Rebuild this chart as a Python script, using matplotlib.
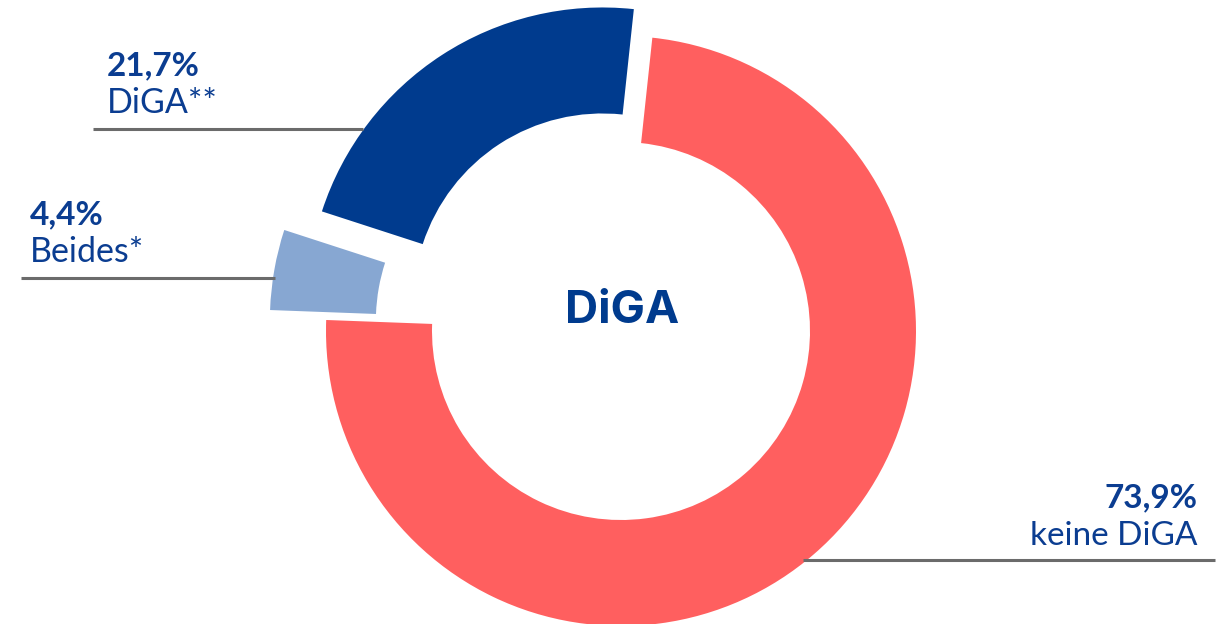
import matplotlib.pyplot as plt

# shares of respondents
labels = ['keine DiGA', 'Beides*', 'DiGA**']
values = [73.9, 4.4, 21.7]
value_texts = ['73,9%', '4,4%', '21,7%']
colors = ['#FF5F5F', '#87A7D2', '#003B8E']
explode = [0, 57, 34]

W, H = 1228, 624
fig = plt.figure(figsize=(W / 100, H / 100), dpi=100)
ax = fig.add_axes([0, 0, 1, 1])

def Y(y):
    # pixel row -> data y
    return H - y

wedges, _ = ax.pie(values, colors=colors, startangle=83.9, counterclock=False,
                   radius=295, center=(621, Y(331)), explode=explode,
                   wedgeprops=dict(width=106, linewidth=0))

ax.set_xlim(0, W)
ax.set_ylim(0, H)
ax.set_aspect('equal')
ax.axis('off')

txt_col = '#0B3D91'
line_col = '#6B6B6B'
lab_font = 'Lato'

ax.text(107, Y(75), value_texts[2], fontsize=24, fontweight='bold', color=txt_col,
        family=lab_font, ha='left', va='baseline')
ax.text(107, Y(113), labels[2], fontsize=24.5, color=txt_col,
        family=lab_font, ha='left', va='baseline')
ax.plot([93, 363], [Y(129), Y(129)], color=line_col, lw=2.2, solid_capstyle='butt')

ax.text(30, Y(224), value_texts[1], fontsize=24, fontweight='bold', color=txt_col,
        family=lab_font, ha='left', va='baseline')
ax.text(30, Y(262), labels[1], fontsize=24.5, color=txt_col,
        family=lab_font, ha='left', va='baseline')
ax.plot([21, 275], [Y(278), Y(278)], color=line_col, lw=2.2, solid_capstyle='butt')

ax.text(1197, Y(507), value_texts[0], fontsize=24, fontweight='bold', color=txt_col,
        family=lab_font, ha='right', va='baseline')
ax.text(1197, Y(545), labels[0], fontsize=24, color=txt_col,
        family=lab_font, ha='right', va='baseline')
ax.plot([803, 1215], [Y(560), Y(560)], color=line_col, lw=2.2, solid_capstyle='butt')

# centre title
ax.text(622, Y(323), 'DiGA', fontsize=33, fontweight='bold', color='#003B8E',
        family='Inter', ha='center', va='baseline')

fig.savefig('out.png', dpi=100)
